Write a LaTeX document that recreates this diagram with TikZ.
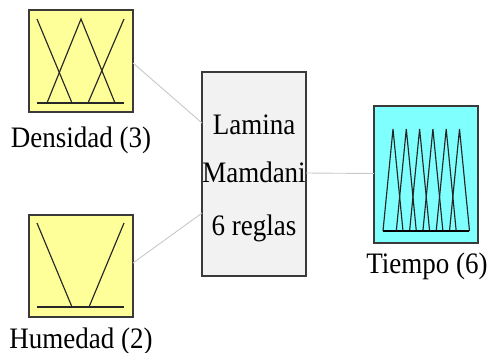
\documentclass[tikz,border=0pt]{standalone}
\usepackage{fontspec}
\usepackage{graphicx}
\setmainfont{Liberation Serif}
\definecolor{mfyellow}{HTML}{FFFF99}
\definecolor{mfcyan}{HTML}{80FFFF}
\definecolor{sysgray}{HTML}{F2F2F2}
\definecolor{framegray}{HTML}{3A3A3A}
\definecolor{linkgray}{HTML}{C8C8C8}
\newcommand{\tallsc}[1]{\scalebox{1}[1.1]{#1}}
\tikzset{
  varbox/.style={draw=framegray, line width=1.2pt, minimum width=104pt, inner sep=0pt, outer sep=0pt},
  link/.style={draw=linkgray, line width=0.9pt},
  mf/.style={draw=black!85, line width=1.15pt},
  lbl/.style={anchor=base, inner sep=0pt, font=\fontsize{27}{32}\selectfont}
}
\begin{document}
\begin{tikzpicture}[x=1pt, y=-1pt]
\useasboundingbox (0,0) rectangle (487,353);
% boxes
\node[varbox, fill=mfyellow, minimum height=102pt] (dens) at (81,61) {};
\node[varbox, fill=mfyellow, minimum height=102pt] (hum) at (81,266) {};
\node[varbox, fill=sysgray, minimum height=204pt] (sys) at (254,174) {};
\node[varbox, fill=mfcyan, minimum height=137pt] (tie) at (426,174.5) {};
% connectors
\coordinate (sysin1) at ([yshift=51pt]sys.west);
\coordinate (sysin2) at ([yshift=-39pt]sys.west);
\draw[link] ([yshift=-2pt]dens.east) -- (sysin1);
\draw[link] ([yshift=3pt]hum.east) -- (sysin2);
\draw[link] ([yshift=1pt]sys.east) -- ([yshift=1pt]tie.west);
% membership functions: Densidad
\draw[mf] (37,103) -- (124,103);
\draw[mf] (37,19) -- (72,103);
\draw[mf] (47,103) -- (81,19) -- (115,103);
\draw[mf] (88,103) -- (124,19);
% Humedad
\draw[mf] (37,307) -- (124,307);
\draw[mf] (37,223) -- (72,307);
\draw[mf] (89,307) -- (124,223);
% Tiempo
\foreach \k in {0,...,5} {
  \pgfmathsetmacro{\px}{393+13.3*\k}
  \draw[mf] ({\px-10},231) -- (\px,129) -- ({\px+10},231);
}
\draw[black, line width=2.6pt] (383,231) -- (469,231);
% labels
\node[lbl] (ldens) at (81,147) {\tallsc{Densidad (3)}};
\node[lbl] (lhum) at (81,348) {\tallsc{Humedad (2)}};
\node[lbl] (ltie) at (427,273) {\tallsc{Tiempo (6)}};
\node[lbl] (l1) at (254,134) {\tallsc{Lamina}};
\node[lbl] (l2) at (254,182) {\tallsc{Mamdani}};
\node[lbl] (l3) at (254,235) {\tallsc{6 reglas}};
\end{tikzpicture}
\end{document}
